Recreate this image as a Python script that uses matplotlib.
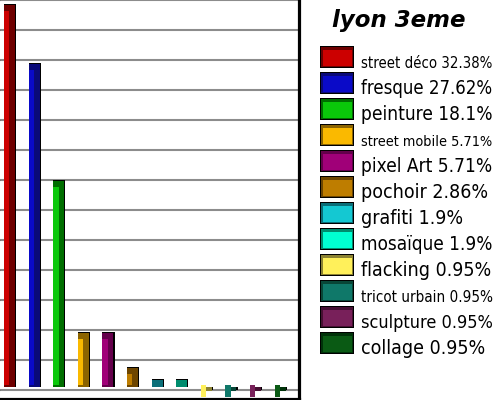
import matplotlib
matplotlib.use("Agg")
import matplotlib.pyplot as plt
import matplotlib.patches as mpatches
import numpy as np

# ── données ─────────────────────────────────────────────────────────────
labels = ["street déco", "fresque", "peinture", "street mobile", "pixel Art",
          "pochoir", "grafiti", "mosaïque", "flacking", "tricot urbain",
          "sculpture", "collage"]
counts = [34, 29, 19, 6, 6, 3, 2, 2, 1, 1, 1, 1]
pcts = [32.38, 27.62, 18.1, 5.71, 5.71, 2.86, 1.9, 1.9, 0.95, 0.95, 0.95, 0.95]
title = "lyon 3eme"

light = ["#cc0000", "#0a0ac8", "#0ac80a", "#fab900", "#a00078", "#be7d00",
         "#14c8d2", "#00ffd2", "#fff05a", "#0f7869", "#78205a", "#0a5a14"]
dark = ["#6e0000", "#0a0a78", "#006e00", "#8c6400", "#64004b", "#6e4600",
        "#0a6e78", "#008c6e", "#8c8232", "#084637", "#460f32", "#003209"]

W, H = 500, 400
fig = plt.figure(figsize=(5, 4), dpi=100)
fig.patch.set_facecolor("white")

# zone du graphique : px 0..298 en x, 0..398 en y
ax = fig.add_axes([0, 1.5 / H, 298.5 / W, 398.5 / H])
ax.set_xlim(-0.386, 11.75)
ax.set_ylim(0.385, 34.44)

step = (34.44 - 0.385) * 30 / 398.5
ax.set_yticks(34.44 - np.arange(14) * step)
ax.grid(axis="y", color="#8c8c8c", lw=1.5, zorder=0)
ax.tick_params(axis="y", length=3, color="#707070", labelleft=False)
ax.tick_params(axis="x", length=0, labelbottom=False)
ax.set_xticks([])
for s in ["left", "top"]:
    ax.spines[s].set_visible(False)
ax.spines["right"].set_linewidth(2.3)
ax.spines["bottom"].set_linewidth(2.3)

base = 1.37
bw = 0.45
x = np.arange(len(counts))
for i, v in enumerate(counts):
    c = x[i]
    ax.add_patch(mpatches.Rectangle((c - bw / 2, base), bw + 0.05, v + 0.08 - base,
                                    fc="black", ec="none", zorder=3, clip_on=False))
    ax.add_patch(mpatches.Rectangle((c - bw / 2, base), bw, v - base,
                                    fc=dark[i], ec="none", zorder=4, clip_on=False))
    ax.add_patch(mpatches.Rectangle((c - bw / 2, base + 0.17), bw / 2, v - 0.5 - base - 0.17,
                                    fc=light[i], ec="none", zorder=5, clip_on=False))

# ── titre et légende ───────────────────────────────────────────────────
fig.text(399 / W, 1 - 21 / H, title, ha="center", va="center",
         fontsize=16.5, fontweight="bold", style="italic", color="black")

renderer = fig.canvas.get_renderer()
for i, (lab, p) in enumerate(zip(labels, pcts)):
    top = 46 + 26 * i
    bx, bw_px, bh = 320, 34, 22
    fig.patches.append(mpatches.Rectangle((bx / W, 1 - (top + bh) / H), bw_px / W, bh / H,
                                          transform=fig.transFigure, fc="black", ec="none"))
    fig.patches.append(mpatches.Rectangle(((bx + 1) / W, 1 - (top + bh - 1) / H),
                                          (bw_px - 2) / W, (bh - 2) / H,
                                          transform=fig.transFigure, fc=dark[i], ec="none"))
    fig.patches.append(mpatches.Rectangle(((bx + 3) / W, 1 - (top + bh - 2) / H),
                                          (bw_px - 5) / W, (bh - 6) / H,
                                          transform=fig.transFigure, fc=light[i], ec="none"))
    t = fig.text(361 / W, 1 - (top + bh - 0.5) / H, f"{lab} {p:g}%",
                 ha="left", va="baseline", fontsize=14, fontstretch="condensed",
                 color="black")
    wpx = t.get_window_extent(renderer).width
    if wpx > 132:
        t.set_fontsize(14 * 132 / wpx)

fig.savefig("out.png", dpi=100, facecolor="white")
plt.close(fig)
